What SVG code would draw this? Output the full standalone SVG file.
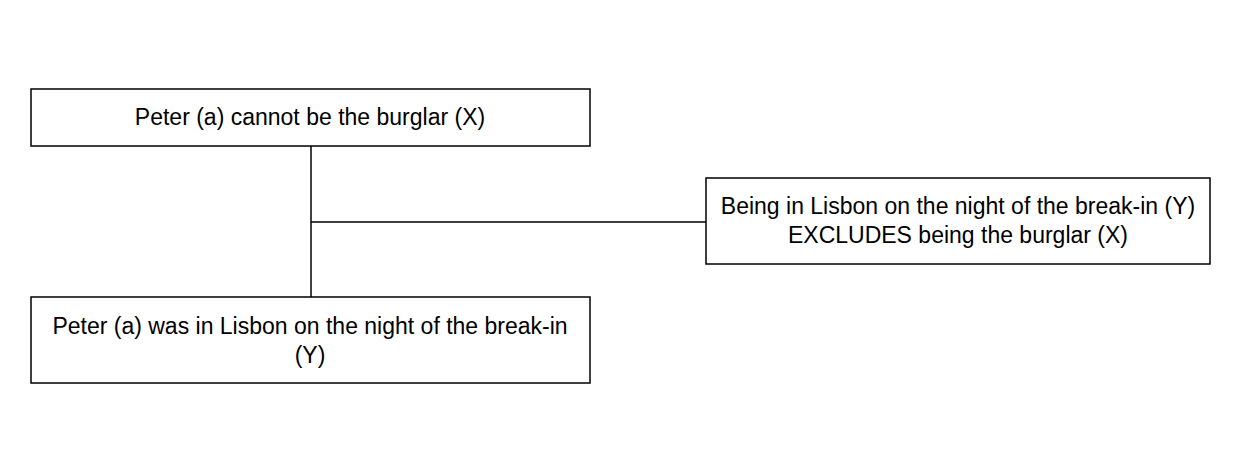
<svg xmlns="http://www.w3.org/2000/svg" width="1240" height="473" viewBox="0 0 1240 473">
<style>
.box{fill:#fff;stroke:#000;stroke-width:1.5}
.ln{stroke:#000;stroke-width:1.5;fill:none}
text{font-family:"Liberation Sans",Arial,sans-serif;font-size:23px;text-anchor:middle;fill:#000}
</style>
<rect width="1240" height="473" fill="#fff"/>
<g id="connectors">
<line class="ln" x1="311" y1="146" x2="311" y2="297"/>
<line class="ln" x1="311" y1="222" x2="706" y2="222"/>
</g>
<g id="n1"><rect class="box" x="31" y="89" width="559" height="57"/><text x="310" y="125">Peter (a) cannot be the burglar (X)</text></g>
<g id="n2"><rect class="box" x="31" y="297" width="559" height="86"/><text x="310" y="334">Peter (a) was in Lisbon on the night of the break-in</text><text x="310" y="363">(Y)</text></g>
<g id="n3"><rect class="box" x="706" y="178" width="504" height="86"/><text x="958" y="214">Being in Lisbon on the night of the break-in (Y)</text><text x="958" y="243">EXCLUDES being the burglar (X)</text></g>
</svg>
